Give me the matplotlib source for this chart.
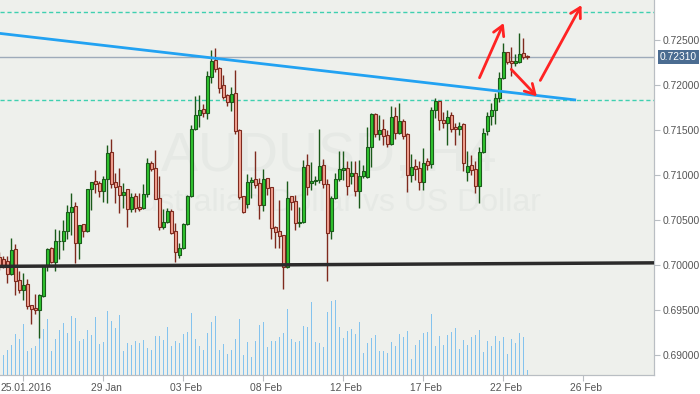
import numpy as np
import matplotlib
matplotlib.use("Agg")
import matplotlib.pyplot as plt
import matplotlib.transforms as mtransforms

# AUDUSD H4 candles (open / high / low / close), oldest first
opens = [
    0.70089, 0.70063, 0.70041, 0.69896, 0.70174, 0.69830, 0.69718, 0.69785, 0.69552, 0.69525,
    0.69496, 0.69652, 0.69996, 0.70185, 0.70030, 0.70263, 0.70263, 0.70374, 0.70585, 0.70652,
    0.70241, 0.70452, 0.70374, 0.70841, 0.70930, 0.70908, 0.70817, 0.70952, 0.71252, 0.70919,
    0.70874, 0.70774, 0.70841, 0.70619, 0.70763, 0.70641, 0.70630, 0.70785, 0.71130, 0.71074,
    0.70741, 0.70425, 0.70474, 0.70596, 0.70374, 0.70107, 0.70185, 0.70452, 0.70763, 0.71508,
    0.71663, 0.71730, 0.71685, 0.72085, 0.72274, 0.72185, 0.71996, 0.71885, 0.71808, 0.71907,
    0.71496, 0.70763, 0.70674, 0.70919, 0.70952, 0.70908, 0.70663, 0.70963, 0.70863, 0.70419,
    0.70374, 0.70330, 0.69974, 0.70763, 0.70707, 0.70463, 0.70474, 0.71107, 0.70911, 0.70928,
    0.70944, 0.71111, 0.70900, 0.70374, 0.70741, 0.70952, 0.71052, 0.71074, 0.70985, 0.71019,
    0.70819, 0.70985, 0.70974, 0.71307, 0.71674, 0.71452, 0.71508, 0.71441, 0.71341, 0.71652,
    0.71463, 0.71596, 0.71452, 0.70996, 0.71096, 0.71074, 0.70919, 0.71152, 0.71118, 0.71719,
    0.71819, 0.71607, 0.71574, 0.71663, 0.71530, 0.71508, 0.71563, 0.71030, 0.71107, 0.71063,
    0.70874, 0.71252, 0.71485, 0.71652, 0.71719, 0.71855, 0.72077, 0.72366, 0.72266, 0.72244,
    0.72255, 0.72355, 0.72322,
]
highs = [
    0.70144, 0.70100, 0.70100, 0.70296, 0.70233, 0.69933, 0.69911, 0.69844, 0.69555, 0.69677,
    0.69677, 0.70000, 0.70189, 0.70200, 0.70400, 0.70389, 0.70500, 0.70667, 0.70800, 0.70700,
    0.70444, 0.70456, 0.70844, 0.70922, 0.71055, 0.70933, 0.70989, 0.71333, 0.71400, 0.71025,
    0.71077, 0.70911, 0.70844, 0.70800, 0.70800, 0.70800, 0.70900, 0.71189, 0.71155, 0.71278,
    0.70989, 0.70622, 0.70633, 0.70622, 0.70466, 0.70244, 0.70466, 0.70778, 0.71555, 0.71878,
    0.71889, 0.71789, 0.72155, 0.72389, 0.72411, 0.72200, 0.72111, 0.71900, 0.71978, 0.72166,
    0.71511, 0.70766, 0.71011, 0.70978, 0.71266, 0.70966, 0.71066, 0.70966, 0.70866, 0.70433,
    0.70722, 0.70333, 0.70933, 0.70766, 0.70778, 0.70644, 0.71166, 0.71233, 0.71144, 0.70989,
    0.71511, 0.71178, 0.70955, 0.70766, 0.71022, 0.71266, 0.71266, 0.71155, 0.71155, 0.71155,
    0.71166, 0.71111, 0.71533, 0.71689, 0.71689, 0.71666, 0.71622, 0.71500, 0.71766, 0.71755,
    0.71800, 0.71622, 0.71466, 0.71233, 0.71178, 0.71155, 0.71300, 0.71189, 0.71755, 0.71855,
    0.71822, 0.71700, 0.71722, 0.71700, 0.71577, 0.71589, 0.71577, 0.71266, 0.71222, 0.71155,
    0.71311, 0.71522, 0.71700, 0.71800, 0.71911, 0.72144, 0.72466, 0.72366, 0.72422, 0.72344,
    0.72577, 0.72522, 0.72333,
]
lows = [
    0.69944, 0.69966, 0.69803, 0.69894, 0.69670, 0.69688, 0.69614, 0.69511, 0.69344, 0.69455,
    0.69188, 0.69650, 0.69933, 0.70022, 0.69933, 0.70067, 0.70167, 0.70289, 0.70333, 0.70022,
    0.70067, 0.70311, 0.70366, 0.70611, 0.70800, 0.70755, 0.70700, 0.70689, 0.70855, 0.70689,
    0.70578, 0.70633, 0.70422, 0.70589, 0.70589, 0.70600, 0.70627, 0.70755, 0.71044, 0.70728,
    0.70389, 0.70400, 0.70466, 0.70344, 0.70033, 0.70078, 0.70178, 0.70444, 0.70755, 0.71500,
    0.71533, 0.71644, 0.71622, 0.72022, 0.72144, 0.71911, 0.71844, 0.71766, 0.71711, 0.71455,
    0.70733, 0.70578, 0.70633, 0.70744, 0.70855, 0.70511, 0.70600, 0.70778, 0.70289, 0.70189,
    0.70189, 0.69733, 0.69972, 0.70611, 0.70389, 0.70422, 0.70466, 0.70778, 0.70833, 0.70889,
    0.70911, 0.70855, 0.69825, 0.70289, 0.70733, 0.70933, 0.70944, 0.70778, 0.70900, 0.70766,
    0.70633, 0.70966, 0.70966, 0.71089, 0.71422, 0.71389, 0.71333, 0.71311, 0.71333, 0.71400,
    0.71455, 0.71400, 0.70811, 0.70922, 0.70944, 0.70833, 0.70833, 0.71055, 0.71077, 0.71633,
    0.71500, 0.71522, 0.71333, 0.71477, 0.71333, 0.71444, 0.71044, 0.70933, 0.71000, 0.70800,
    0.70689, 0.71244, 0.71444, 0.71555, 0.71566, 0.71811, 0.72066, 0.72233, 0.72100, 0.72211,
    0.72244, 0.72288, 0.72288,
]
closes = [
    0.69989, 0.69989, 0.69896, 0.70163, 0.69818, 0.69718, 0.69774, 0.69541, 0.69507, 0.69496,
    0.69663, 0.69985, 0.70174, 0.70030, 0.70263, 0.70270, 0.70374, 0.70585, 0.70641, 0.70241,
    0.70441, 0.70374, 0.70841, 0.70919, 0.70896, 0.70819, 0.70952, 0.71241, 0.70903, 0.70863,
    0.70774, 0.70807, 0.70619, 0.70752, 0.70630, 0.70619, 0.70785, 0.71130, 0.71063, 0.70730,
    0.70425, 0.70474, 0.70596, 0.70352, 0.70141, 0.70185, 0.70452, 0.70763, 0.71508, 0.71663,
    0.71719, 0.71685, 0.72096, 0.72263, 0.72174, 0.71963, 0.71863, 0.71808, 0.71896, 0.71485,
    0.70752, 0.70585, 0.70919, 0.70941, 0.70885, 0.70663, 0.70952, 0.70852, 0.70407, 0.70363,
    0.70319, 0.69974, 0.70741, 0.70696, 0.70463, 0.70481, 0.71085, 0.70863, 0.70933, 0.70939,
    0.71100, 0.70900, 0.70359, 0.70741, 0.70952, 0.71063, 0.71074, 0.70874, 0.71019, 0.70819,
    0.70985, 0.71041, 0.71307, 0.71674, 0.71452, 0.71496, 0.71430, 0.71341, 0.71641, 0.71463,
    0.71596, 0.71430, 0.70996, 0.71085, 0.71063, 0.70919, 0.71130, 0.71107, 0.71719, 0.71819,
    0.71607, 0.71574, 0.71641, 0.71508, 0.71508, 0.71541, 0.71130, 0.71096, 0.71052, 0.70874,
    0.71252, 0.71463, 0.71652, 0.71719, 0.71852, 0.72077, 0.72366, 0.72255, 0.72244, 0.72266,
    0.72344, 0.72311, 0.72310,
]
volumes = [
    2200, 2000, 2500, 3000, 4100, 3600, 5100, 2400, 2700, 2900,
    3700, 4600, 5600, 2400, 3600, 4500, 5200, 4200, 5900, 5700,
    3400, 3600, 4500, 4000, 5800, 3100, 3300, 6400, 5400, 4700,
    6000, 2400, 3200, 3000, 3400, 3200, 3500, 2700, 2500, 3900,
    3900, 3500, 4800, 2900, 3400, 3200, 4100, 4300, 6200, 3600,
    2900, 2500, 4200, 5300, 5900, 2500, 3100, 2100, 2500, 3600,
    5600, 2000, 3300, 1800, 3400, 5000, 5300, 2800, 3400, 3400,
    3800, 4200, 6600, 3600, 3300, 3400, 4900, 4800, 7300, 3300,
    3200, 2800, 6300, 7400, 7500, 4800, 3700, 4400, 4600, 4100,
    5300, 2200, 3200, 3700, 4000, 2400, 2400, 2200, 3300, 2900,
    4100, 3800, 4400, 1600, 3000, 3500, 4200, 4300, 6100, 2900,
    3900, 3000, 4000, 4300, 4700, 2600, 3500, 3000, 3800, 4000,
    4500, 2300, 3400, 2900, 3900, 3400, 3800, 2100, 3600, 3200,
    4200, 3800, 500,
]

date_ticks = [6, 26, 46, 66, 86, 106, 126, 146]
date_labels = ["25.01.2016", "29 Jan", "03 Feb", "08 Feb", "12 Feb", "17 Feb", "22 Feb", "26 Feb"]
price_ticks = [0.690, 0.695, 0.700, 0.705, 0.710, 0.715, 0.720, 0.725]

last_price = 0.72310
levels = [0.72806, 0.71833]                     # dashed teal levels
trend_x, trend_y = [0.0, 144.2], [0.72574, 0.71833]
support_x, support_y = [0.0, 164.0], [0.69985, 0.70024]
arrows = [((120.05, 0.72081), (126.1, 0.72689)),
          ((127.98, 0.72174), (134.4, 0.71874)),
          ((135.25, 0.72051), (145.55, 0.72888))]

BG = "#eef0ec"
TXT = "#555555"
SPINE = "#b9bec3"

fig = plt.figure(figsize=(7, 3.94), dpi=100)
axv = fig.add_axes([0, 19 / 394, 654 / 700, 375 / 394])
axv.set_facecolor(BG)
ax = axv.twinx()

x = np.arange(len(opens))
o = np.array(opens); h = np.array(highs); l = np.array(lows); c = np.array(closes)
up = c >= o

# watermark
axv.text(0.503, 0.581, "AUDUSD, H4", transform=axv.transAxes, ha="center", va="center",
         fontsize=40, color="#e6e9e5", family="Liberation Sans", zorder=0)
axv.text(0.505, 0.459, "Australian Dollar vs US Dollar", transform=axv.transAxes,
         ha="center", va="center", fontsize=23, color="#e6e9e5", family="Liberation Sans", zorder=0)

# volume
axv.vlines(x, 0, volumes, color="#84c3ee", lw=0.72, antialiased=False, zorder=1)
axv.set_ylim(0, 37500)
axv.set_yticks([])

# candles
for mask, fill, edge in [(up, "#2fc42f", "#1a5a1a"), (~up, "#f4a393", "#7e2a1e")]:
    ax.vlines(x[mask], l[mask], h[mask], color=edge, lw=1, zorder=3)
    ax.bar(x[mask], np.abs(c - o)[mask], bottom=np.minimum(o, c)[mask], width=0.72,
           color=fill, edgecolor=edge, linewidth=0.8, zorder=4)

# lines
ax.axhline(last_price, color="#9eabba", lw=1, zorder=2)
for lv in levels:
    ax.axhline(lv, color="#3fd0b0", lw=1, ls=(0, (3, 2)), zorder=2)
ax.plot(support_x, support_y, color="#2b2b2b", lw=2.5, zorder=5, solid_capstyle="butt")
ax.plot(trend_x, trend_y, color="#22a2f2", lw=2, zorder=5, solid_capstyle="butt")
for (x0, y0), (x1, y1) in arrows:
    ax.annotate("", xy=(x1, y1), xytext=(x0, y0),
                arrowprops=dict(arrowstyle="->,head_length=0.7,head_width=0.4",
                                color="#ff2323", lw=2, shrinkA=0, shrinkB=0,
                                mutation_scale=10),
                zorder=6)

ax.set_xlim(0.175, 163.675)
ax.set_ylim(0.687778, 0.729444)

# axes styling
for a in (ax, axv):
    for side in ("left", "top"):
        a.spines[side].set_visible(False)
    a.spines["right"].set_color(SPINE)
    a.spines["bottom"].set_color(SPINE)

ax.set_yticks(price_ticks)
ax.set_yticklabels([f"{p:.5f}" for p in price_ticks])
ax.tick_params(axis="y", length=4, width=0.8, color=SPINE, pad=2, labelsize=7.4,
               labelcolor=TXT)
for t in ax.get_yticklabels():
    t.set_family("Liberation Sans")

axv.set_xticks(date_ticks)
axv.set_xticklabels(date_labels)
axv.tick_params(axis="x", length=4, width=0.8, color=SPINE, pad=2, labelsize=7.4,
                labelcolor=TXT)
shift = mtransforms.ScaledTranslation(3 / 100, 0, fig.dpi_scale_trans)
for t in axv.get_xticklabels():
    t.set_family("Liberation Sans")
    t.set_transform(t.get_transform() + shift)

# current price tag
tag_tr = mtransforms.blended_transform_factory(ax.transAxes, ax.transData)
ax.text(1 + 6 / 654, last_price, f"{last_price:.5f}", transform=tag_tr, ha="left",
        va="center", fontsize=7.4, color="white", family="Liberation Sans",
        bbox=dict(boxstyle="square,pad=0.2", fc="#4b6c91", ec="none"), clip_on=False, zorder=10)

fig.savefig("out.png", dpi=100, facecolor="white")
